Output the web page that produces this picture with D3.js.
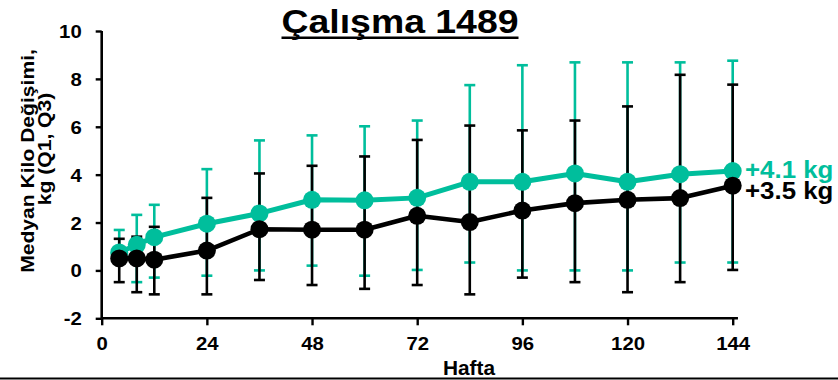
<!DOCTYPE html>
<html>
<head>
<meta charset="utf-8">
<script src="https://cdn.jsdelivr.net/npm/d3@7"></script>
<style>
  body { margin: 0; background: #fff; }
  svg text { font-family: "Liberation Sans", Arial, sans-serif; font-weight: bold; }
</style>
</head>
<body>
<svg id="chart" width="838" height="380"></svg>
<script>
// data
var weeks = [4, 8, 12, 24, 36, 48, 60, 72, 84, 96, 108, 120, 132, 144];
var tealMedian = [0.75, 1.07, 1.39, 1.95, 2.38, 2.95, 2.93, 3.03, 3.7, 3.7, 4.05, 3.7, 4.02, 4.15];
var tealQ1 = [0.3, -0.49, -0.3, -0.22, 0.0, 0.2, -0.22, 0.02, 0.33, 0.0, 0.0, 0.0, 0.33, 0.33];
var tealQ3 = [1.69, 2.32, 2.74, 4.23, 5.43, 5.64, 6.02, 6.26, 7.74, 8.57, 8.69, 8.69, 8.69, 8.76];
var blackMedian = [0.5, 0.5, 0.45, 0.83, 1.72, 1.7, 1.7, 2.28, 2.02, 2.5, 2.81, 2.95, 3.02, 3.54];
var blackQ1 = [-0.49, -0.91, -1.0, -1.0, -0.4, -0.61, -0.77, -0.61, -1.0, -0.3, -0.49, -0.91, -0.49, 0.02];
var blackQ3 = [1.32, 1.41, 1.82, 3.03, 4.05, 4.37, 4.76, 5.45, 6.05, 5.85, 6.26, 6.85, 8.17, 7.76];
var xTicks = [0, 24, 48, 72, 96, 120, 144];
var yTicks = [-2, 0, 2, 4, 6, 8, 10];
var endLabels = ["+4.1 kg", "+3.5 kg"];

var TEAL = "#00BE9C", BLACK = "#000";
// reference text is a bit wider than Liberation Sans, so stretch it
var SX = "scale(1.1,1)";
var SXT = "scale(1.13,1)";

var svg = d3.select("#chart");

var x = d3.scaleLinear().domain([0, 144]).range([101.7, 732.7]);
var y = d3.scaleLinear().domain([-2, 10]).range([318.3, 31]);

// title
var title = svg.append("g").attr("transform", "translate(400,33)");
var tt = title.append("text")
    .attr("text-anchor", "middle")
    .attr("transform", SX)
    .style("font-size", "34px")
    .text("Çalışma 1489");
var tw = tt.node().getBBox().width * 1.1;
title.append("line")
    .attr("x1", -tw / 2).attr("x2", tw / 2)
    .attr("y1", 4.7).attr("y2", 4.7)
    .attr("stroke", "#000").attr("stroke-width", 2.4);

// y axis
var yAxis = svg.append("g")
    .attr("transform", "translate(" + x(0) + ",0)")
    .call(d3.axisLeft(y).tickValues(yTicks).tickSize(6).tickSizeOuter(0).tickFormat(d => String(d)));
yAxis.select(".domain").remove();
yAxis.append("line")
    .attr("y1", y(10)).attr("y2", y(-2))
    .attr("stroke", "#000").attr("stroke-width", 2.6);
yAxis.selectAll(".tick line").attr("stroke", "#000").attr("stroke-width", 2.4);
yAxis.selectAll(".tick text")
    .attr("x", -20 / 1.13).attr("dy", "0.36em")
    .attr("transform", SXT)
    .style("font-size", "18px").attr("fill", "#000");

// x axis
var xAxis = svg.append("g")
    .attr("transform", "translate(0," + y(-2) + ")")
    .call(d3.axisBottom(x).tickValues(xTicks).tickSize(7).tickSizeOuter(0));
xAxis.select(".domain").remove();
xAxis.append("line")
    .attr("x1", x(0)).attr("x2", x(145.2))
    .attr("stroke", "#000").attr("stroke-width", 2.6);
xAxis.selectAll(".tick line").attr("stroke", "#000").attr("stroke-width", 2.4);
xAxis.selectAll(".tick text")
    .attr("y", 32).attr("dy", 0)
    .attr("transform", SXT)
    .style("font-size", "18px").attr("fill", "#000");

svg.append("g").attr("transform", "translate(469,375)")
  .append("text")
    .attr("text-anchor", "middle")
    .attr("transform", "scale(1.07,1)")
    .style("font-size", "19.5px")
    .text("Hafta");

// y label, two lines, stretched along the text direction
var ylab = svg.append("text")
    .attr("transform", "rotate(-90) scale(1.14,1)")
    .attr("text-anchor", "middle")
    .style("font-size", "18.5px");
ylab.append("tspan").attr("x", -161 / 1.14).attr("y", 34).text("Medyan Kilo Değişimi,");
ylab.append("tspan").attr("x", -149 / 1.14).attr("y", 51).text("kg (Q1, Q3)");

function rows(med, q1, q3) {
  return weeks.map(function(w, i) { return { w: w, m: med[i], lo: q1[i], hi: q3[i] }; });
}
var teal = rows(tealMedian, tealQ1, tealQ3);
var black = rows(blackMedian, blackQ1, blackQ3);

function errorBars(data, color) {
  var g = svg.append("g").attr("stroke", color).attr("stroke-width", 2.6);
  var e = g.selectAll("g").data(data).enter().append("g");
  e.append("line")
    .attr("x1", d => x(d.w)).attr("x2", d => x(d.w))
    .attr("y1", d => y(d.lo)).attr("y2", d => y(d.hi));
  e.append("line")
    .attr("x1", d => x(d.w) - 5.5).attr("x2", d => x(d.w) + 5.5)
    .attr("y1", d => y(d.hi)).attr("y2", d => y(d.hi));
  e.append("line")
    .attr("x1", d => x(d.w) - 5.5).attr("x2", d => x(d.w) + 5.5)
    .attr("y1", d => y(d.lo)).attr("y2", d => y(d.lo));
}

function series(data, color, width) {
  var line = d3.line().x(d => x(d.w)).y(d => y(d.m));
  svg.append("path")
    .datum(data)
    .attr("d", line)
    .attr("fill", "none")
    .attr("stroke", color)
    .attr("stroke-width", width)
    .attr("stroke-linejoin", "round");
  svg.append("g").selectAll("circle").data(data).enter().append("circle")
    .attr("cx", d => x(d.w)).attr("cy", d => y(d.m))
    .attr("r", 9)
    .attr("fill", color);
}

errorBars(teal, TEAL);
errorBars(black, BLACK);
series(teal, TEAL, 5);
series(black, BLACK, 4.6);

// end labels
var lab = svg.append("g");
[[endLabels[0], TEAL, 177.5], [endLabels[1], BLACK, 198.5]].forEach(function(l) {
  lab.append("g").attr("transform", "translate(745," + l[2] + ")")
    .append("text")
    .attr("transform", SX)
    .style("font-size", "23.5px")
    .attr("fill", l[1])
    .text(l[0]);
});

// bottom rule
svg.append("line")
  .attr("x1", 0).attr("x2", 838)
  .attr("y1", 378.6).attr("y2", 378.6)
  .attr("stroke", "#000").attr("stroke-width", 2);
</script>
</body>
</html>
